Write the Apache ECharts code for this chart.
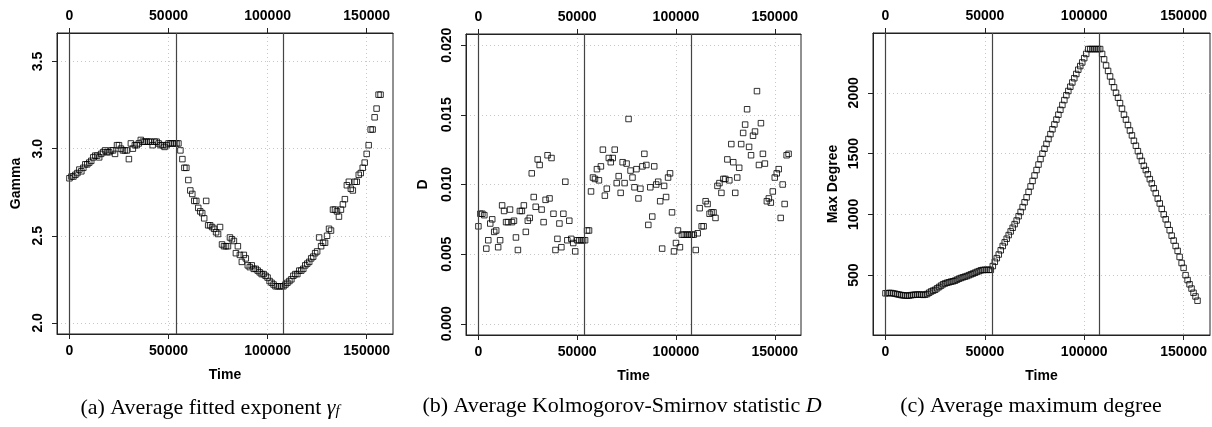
<!DOCTYPE html>
<html>
<head>
<meta charset="utf-8">
<script src="https://cdn.jsdelivr.net/npm/echarts@6/dist/echarts.min.js"></script>
<style>
html, body { margin: 0; padding: 0; background: #fff; }
#chart { width: 1212px; height: 427px; }
</style>
</head>
<body>
<div id="chart"></div>
<script>
// one sample every 1000 time steps, starting at 0
var timeStep = 1000;

var gamma = [
    2.83, 2.84, 2.84, 2.85, 2.86, 2.88, 2.87, 2.89, 2.91, 2.91,
    2.92, 2.93, 2.95, 2.96, 2.96, 2.95, 2.97, 2.98, 2.99, 2.98,
    2.98, 2.99, 2.99, 2.97, 3.02, 3.02, 3.00, 2.99, 2.99, 2.99,
    2.94, 3.03, 3.00, 3.02, 3.02, 3.03, 3.05, 3.04, 3.04, 3.04,
    3.04, 3.04, 3.02, 3.04, 3.04, 3.03, 3.02, 3.02, 3.01, 3.02,
    3.03, 3.03, 3.03, 3.03, 3.03, 3.03, 2.99, 2.94, 2.89, 2.89,
    2.82, 2.76, 2.74, 2.70, 2.70, 2.66, 2.64, 2.63, 2.60, 2.70,
    2.56, 2.56, 2.55, 2.54, 2.52, 2.51, 2.55, 2.45, 2.44, 2.44,
    2.44, 2.49, 2.48, 2.47, 2.40, 2.44, 2.39, 2.35, 2.39, 2.37,
    2.33, 2.32, 2.33, 2.31, 2.31, 2.30, 2.29, 2.28, 2.28, 2.27,
    2.26, 2.24, 2.23, 2.22, 2.21, 2.21, 2.21, 2.21, 2.21, 2.22,
    2.23, 2.24, 2.25, 2.27, 2.28, 2.28, 2.30, 2.30, 2.31, 2.33,
    2.34, 2.35, 2.37, 2.38, 2.40, 2.41, 2.49, 2.44, 2.46, 2.46,
    2.50, 2.54, 2.53, 2.65, 2.65, 2.64, 2.61, 2.65, 2.68, 2.71,
    2.79, 2.81, 2.77, 2.76, 2.81, 2.81, 2.85, 2.86, 2.89, 2.92,
    2.97, 3.02, 3.11, 3.11, 3.18, 3.23, 3.31, 3.31
];

var ksD = [
    0.0070, 0.0079, 0.0079, 0.0078, 0.0054, 0.0060, 0.0072, 0.0075, 0.0066, 0.0067,
    0.0055, 0.0060, 0.0085, 0.0081, 0.0073, 0.0073, 0.0082, 0.0073, 0.0074, 0.0062,
    0.0053, 0.0081, 0.0081, 0.0085, 0.0066, 0.0074, 0.0076, 0.0108, 0.0091, 0.0084,
    0.0118, 0.0114, 0.0082, 0.0073, 0.0089, 0.0121, 0.0090, 0.0119, 0.0079, 0.0053,
    0.0061, 0.0072, 0.0055, 0.0079, 0.0102, 0.0060, 0.0074, 0.0061, 0.0058, 0.0052,
    0.0060, 0.0060, 0.0060, 0.0060, 0.0060, 0.0067, 0.0067, 0.0095, 0.0105, 0.0104,
    0.0111, 0.0103, 0.0113, 0.0125, 0.0092, 0.0097, 0.0119, 0.0116, 0.0119, 0.0125,
    0.0101, 0.0106, 0.0094, 0.0116, 0.0101, 0.0115, 0.0147, 0.0110, 0.0105, 0.0098,
    0.0111, 0.0090, 0.0097, 0.0113, 0.0122, 0.0114, 0.0071, 0.0098, 0.0077, 0.0113,
    0.0100, 0.0102, 0.0088, 0.0054, 0.0099, 0.0091, 0.0105, 0.0108, 0.0080, 0.0052,
    0.0058, 0.0067, 0.0055, 0.0064, 0.0064, 0.0064, 0.0064, 0.0064, 0.0064, 0.0064,
    0.0053, 0.0065, 0.0083, 0.0070, 0.0070, 0.0088, 0.0086, 0.0079, 0.0080, 0.0080,
    0.0076, 0.0099, 0.0101, 0.0094, 0.0104, 0.0104, 0.0118, 0.0103, 0.0129, 0.0116,
    0.0094, 0.0105, 0.0112, 0.0129, 0.0137, 0.0143, 0.0154, 0.0127, 0.0121, 0.0135,
    0.0138, 0.0167, 0.0114, 0.0144, 0.0122, 0.0115, 0.0088, 0.0090, 0.0087, 0.0095,
    0.0105, 0.0108, 0.0111, 0.0076, 0.0100, 0.0086, 0.0121, 0.0122
];

var maxDegree = [
    351, 352, 354, 353, 350, 347, 343, 340, 336, 334,
    333, 331, 333, 336, 338, 340, 340, 341, 340, 338,
    340, 345, 356, 366, 373, 380, 392, 403, 414, 425,
    432, 438, 442, 447, 450, 455, 463, 471, 477, 483,
    488, 493, 500, 507, 513, 520, 527, 533, 540, 543,
    544, 544, 544, 544, 575, 610, 640, 670, 705, 740,
    770, 800, 830, 860, 890, 920, 950, 985, 1020, 1060,
    1100, 1140, 1185, 1230, 1275, 1320, 1365, 1410, 1455, 1500,
    1540, 1580, 1620, 1660, 1700, 1740, 1780, 1820, 1860, 1900,
    1940, 1980, 2015, 2050, 2085, 2120, 2155, 2190, 2220, 2250,
    2285, 2320, 2360, 2360, 2360, 2360, 2360, 2360, 2360, 2320,
    2275, 2225, 2180, 2135, 2090, 2045, 2000, 1960, 1915, 1870,
    1820, 1780, 1735, 1690, 1650, 1605, 1565, 1520, 1480, 1440,
    1400, 1365, 1330, 1290, 1255, 1215, 1175, 1130, 1090, 1045,
    1000, 960, 915, 870, 825, 785, 740, 700, 650, 600,
    560, 500, 460, 425, 390, 355, 325, 290
];

// phase boundaries drawn as solid vertical lines
var phaseLines = [0, 53800, 107800];

var timeTicks = [0, 50000, 100000, 150000];
var gammaTicks = [2.0, 2.5, 3.0, 3.5];
var dTicks = [0, 0.005, 0.010, 0.015, 0.020];
var degreeTicks = [500, 1000, 1500, 2000];

var sans = 'Liberation Sans';
var serif = 'Liberation Serif';

function withTime(values) {
    return values.map(function (v, i) { return [i * timeStep, v]; });
}

var panels = [
    { grid: { left: 57, top: 33, width: 336, height: 301 }, yName: 'Gamma', yMin: 1.936, yMax: 3.664,
      yTicks: gammaTicks, digits: 1, nameGap: 34, data: gamma },
    { grid: { left: 466, top: 34, width: 335, height: 301 }, yName: 'D', yMin: -0.0008, yMax: 0.0208,
      yTicks: dTicks, digits: 3, nameGap: 36, data: ksD },
    { grid: { left: 873, top: 33, width: 337, height: 302 }, yName: 'Max Degree', yMin: 8, yMax: 2492,
      yTicks: degreeTicks, digits: 0, nameGap: 33, data: maxDegree }
];

var labelFont = { fontFamily: sans, fontWeight: 'bold', fontSize: 14, color: '#000' };
var dotted = { show: true, lineStyle: { color: '#c8c8c8', type: [1, 3], width: 1 } };

var grids = [], xAxes = [], yAxes = [], series = [];

panels.forEach(function (p, i) {
    grids.push(Object.assign({ show: true, borderColor: '#222', borderWidth: 1,
        backgroundColor: 'transparent', outerBoundsMode: 'none' }, p.grid));

    ['bottom', 'top'].forEach(function (pos) {
        xAxes.push({
            gridIndex: i, type: 'value', position: pos,
            min: -6280, max: 163280,
            axisLine: { show: true, onZero: false, lineStyle: { color: '#222' } },
            axisTick: { show: true, length: 5, customValues: timeTicks, lineStyle: { color: '#222' } },
            axisLabel: Object.assign({ customValues: timeTicks, margin: 10,
                formatter: function (v) { return String(v); } }, labelFont),
            splitLine: pos === 'bottom' ? dotted : { show: false },
            name: pos === 'bottom' ? 'Time' : '',
            nameLocation: 'middle', nameGap: 34,
            nameTextStyle: labelFont
        });
    });

    yAxes.push({
        gridIndex: i, type: 'value', min: p.yMin, max: p.yMax,
        axisLine: { show: true, onZero: false, lineStyle: { color: '#222' } },
        axisTick: { show: true, length: 5, customValues: p.yTicks, lineStyle: { color: '#222' } },
        axisLabel: Object.assign({
            customValues: p.yTicks, rotate: 90, margin: 12,
            formatter: (function (d) { return function (v) { return v.toFixed(d); }; })(p.digits)
        }, labelFont),
        splitLine: dotted,
        name: p.yName, nameLocation: 'middle', nameGap: p.nameGap, nameRotate: 90,
        nameTextStyle: labelFont
    });

    series.push({
        type: 'scatter', xAxisIndex: i * 2, yAxisIndex: i,
        data: withTime(p.data),
        symbol: 'rect', symbolSize: 5.5,
        itemStyle: { color: 'rgba(0,0,0,0)', borderColor: '#000', borderWidth: 1 },
        markLine: {
            silent: true, symbol: ['none', 'none'], label: { show: false },
            lineStyle: { type: 'solid', color: '#444', width: 1.2 },
            data: phaseLines.map(function (t) { return { xAxis: t }; })
        }
    });
});

var capBase = { fontFamily: serif, fontSize: 22, color: '#000' };
function caption(x, y, text) {
    return { type: 'text', x: x, y: y,
        style: { text: text, align: 'center', verticalAlign: 'middle', rich: capRich } };
}
var capRich = {
    n: Object.assign({ verticalAlign: 'top', lineHeight: 22 }, capBase),
    m: Object.assign({ verticalAlign: 'top', lineHeight: 22, fontStyle: 'italic' }, capBase),
    s: { fontFamily: serif, fontSize: 15, fontStyle: 'italic', color: '#000',
         verticalAlign: 'bottom', lineHeight: 15, padding: [11, 0, 0, 0] }
};

var myChart = echarts.init(document.getElementById('chart'), null, { renderer: 'canvas' });
myChart.setOption({
    animation: false,
    backgroundColor: '#fff',
    grid: grids,
    xAxis: xAxes,
    yAxis: yAxes,
    series: series,
    graphic: [
        caption(210, 408, '{n|(a) Average fitted exponent }{m|γ}{s|f}'),
        caption(622, 406, '{n|(b) Average Kolmogorov-Smirnov statistic }{m|D}'),
        caption(1031, 406, '{n|(c) Average maximum degree}')
    ]
});
</script>
</body>
</html>
